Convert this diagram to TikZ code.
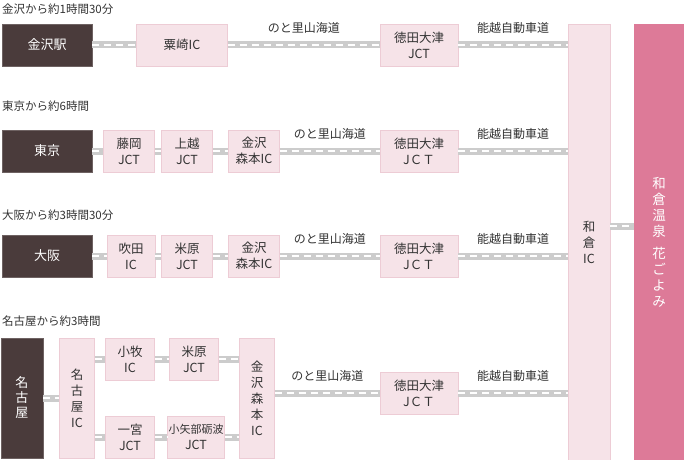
\documentclass[tikz,border=0pt]{standalone}
\usepackage{fontspec}
\setmainfont{Noto Sans CJK JP}
\definecolor{dk}{HTML}{4A3B3B}
\definecolor{pkf}{HTML}{F6E3E8}
\definecolor{pkd}{HTML}{EDCCD5}
\definecolor{hana}{HTML}{DD7A98}
\definecolor{txt}{HTML}{333333}
\begin{document}
\begin{tikzpicture}[x=1pt,y=-1pt,
  dark/.style={fill=dk,draw=dk!80!white,text=white,font=\fontsize{13}{15}\selectfont,inner sep=0,align=center},
  pk/.style={fill=pkf,draw=pkd,text=txt,font=\fontsize{12.5}{16}\selectfont,inner sep=0,align=center},
  ttl/.style={anchor=west,text=txt,font=\fontsize{11.5}{13}\selectfont,inner sep=0},
  lbl/.style={text=txt,font=\fontsize{12}{14}\selectfont,inner sep=0},
  road/.style={draw=black!20,line width=7pt,postaction={draw=white,line width=1.8pt,dash pattern=on 7pt off 5pt}}]
\useasboundingbox (0,0) rectangle (685,460);
\fill[white] (0,0) rectangle (685,460);
% big boxes
\node[pk,minimum width=42,minimum height=436] (wk) at (589,242) {和\\倉\\IC};
\node[fill=hana,text=white,inner sep=0,minimum width=50,minimum height=436,align=center,font=\fontsize{13.5}{16}\selectfont] (hk) at (659,242) {和\\倉\\温\\泉\\[6pt]花\\ご\\よ\\み};
% row1
\node[ttl] (t1) at (2,9) {金沢から約1時間30分};
\node[dark,minimum width=90,minimum height=42] (k1) at (47,45) {金沢駅};
\node[pk,minimum width=91,minimum height=42] (a1) at (182,45) {粟崎IC};
\node[pk,minimum width=78,minimum height=42] (j1) at (419,45) {徳田大津\\JCT};
% row2
\node[ttl] (t2) at (2,106) {東京から約6時間};
\node[dark,minimum width=90,minimum height=42] (k2) at (47,151) {東京};
\node[pk,minimum width=51,minimum height=42] (b2) at (129,151) {藤岡\\JCT};
\node[pk,minimum width=51,minimum height=42] (c2) at (187,151) {上越\\JCT};
\node[pk,minimum width=51,minimum height=42] (d2) at (254,151) {金沢\\森本IC};
\node[pk,minimum width=78,minimum height=42] (j2) at (419,151) {徳田大津\\JＣＴ};
% row3
\node[ttl] (t3) at (2,215) {大阪から約3時間30分};
\node[dark,minimum width=90,minimum height=42] (k3) at (47,256) {大阪};
\node[pk,minimum width=48,minimum height=42] (b3) at (131,256) {吹田\\IC};
\node[pk,minimum width=51,minimum height=42] (c3) at (187,256) {米原\\JCT};
\node[pk,minimum width=51,minimum height=42] (d3) at (254,256) {金沢\\森本IC};
\node[pk,minimum width=78,minimum height=42] (j3) at (419,256) {徳田大津\\JＣＴ};
% row4
\node[ttl] (t4) at (2,321) {名古屋から約3時間};
\node[dark,minimum width=42,minimum height=120] (k4) at (22,398) {名\\古\\屋};
\node[pk,minimum width=35,minimum height=120] (n4) at (77,398) {名\\古\\屋\\IC};
\node[pk,minimum width=49,minimum height=42] (e4) at (130,359) {小牧\\IC};
\node[pk,minimum width=49,minimum height=42] (f4) at (194,359) {米原\\JCT};
\node[pk,minimum width=49,minimum height=42] (g4) at (130,437) {一宮\\JCT};
\node[pk,minimum width=57,minimum height=42] (h4) at (196,437) {\fontsize{11}{16}\selectfont 小矢部砺波\\JCT};
\node[pk,minimum width=35,minimum height=120] (m4) at (257,398) {金\\沢\\森\\本\\IC};
\node[pk,minimum width=78,minimum height=42] (j4) at (419,393) {徳田大津\\JＣＴ};
% roads
\draw[road] (k1.east) -- (a1.west);
\draw[road] (a1.east) -- node[lbl,above=8pt] (l1) {のと里山海道} (j1.west);
\draw[road] (j1.east) -- node[lbl,above=8pt] (m1) {能越自動車道} (j1.east -| wk.west);
\draw[road] (k2.east) -- (b2.west);
\draw[road] (b2.east) -- (c2.west);
\draw[road] (c2.east) -- (d2.west);
\draw[road] (d2.east) -- node[lbl,above=8pt] (l2) {のと里山海道} (j2.west);
\draw[road] (j2.east) -- node[lbl,above=8pt] (m2) {能越自動車道} (j2.east -| wk.west);
\draw[road] (k3.east) -- (b3.west);
\draw[road] (b3.east) -- (c3.west);
\draw[road] (c3.east) -- (d3.west);
\draw[road] (d3.east) -- node[lbl,above=8pt] (l3) {のと里山海道} (j3.west);
\draw[road] (j3.east) -- node[lbl,above=8pt] (m3) {能越自動車道} (j3.east -| wk.west);
\draw[road] (k4.east) -- (n4.west);
\draw[road] (n4.east |- e4.west) -- (e4.west);
\draw[road] (e4.east) -- (f4.west);
\draw[road] (f4.east) -- (f4.east -| m4.west);
\draw[road] (n4.east |- g4.west) -- (g4.west);
\draw[road] (g4.east) -- (h4.west);
\draw[road] (h4.east) -- (h4.east -| m4.west);
\draw[road] (m4.east |- j4.west) -- node[lbl,above=8pt] (l4) {のと里山海道} (j4.west);
\draw[road] (j4.east) -- node[lbl,above=8pt] (m4l) {能越自動車道} (j4.east -| wk.west);
\draw[road] ([yshift=16]wk.east) -- ([yshift=16]wk.east -| hk.west);
\end{tikzpicture}
\end{document}
